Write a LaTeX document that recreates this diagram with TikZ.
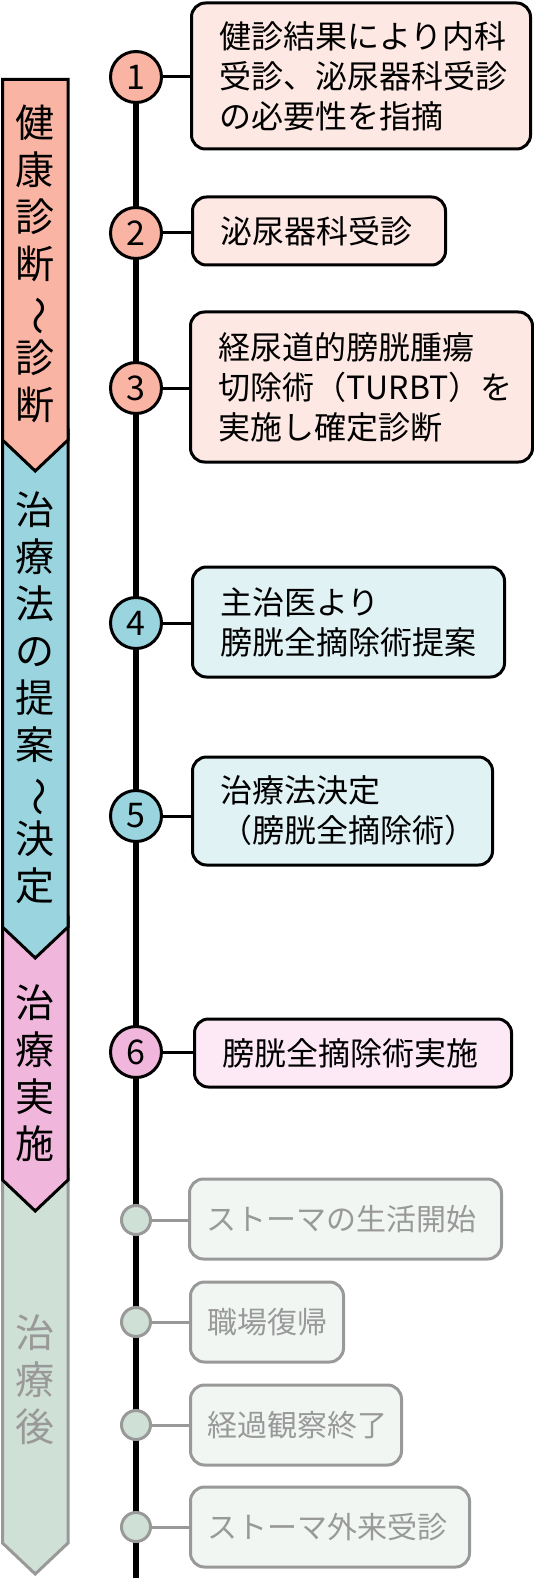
\documentclass[tikz,border=0pt]{standalone}
\usepackage{fontspec}
\setmainfont{Noto Sans CJK JP}
\usepackage{graphicx}

\definecolor{kenshin}{HTML}{F9B4A4}
\definecolor{kenshinlt}{HTML}{FDE8E3}
\definecolor{teian}{HTML}{9AD5DF}
\definecolor{teianlt}{HTML}{E1F2F5}
\definecolor{jisshi}{HTML}{F0B6DC}
\definecolor{jisshilt}{HTML}{FCE9F5}
\definecolor{chiryogo}{HTML}{CFE0D6}
\definecolor{chiryogolt}{HTML}{F1F6F3}
\definecolor{usui}{HTML}{999999}

\newcommand{\tatenami}{\smash{\rotatebox[origin=c]{-90}{～}}}

\begin{document}
\begin{tikzpicture}[x=1pt,y=-1pt,
    band/.style={line width=3pt,line join=miter},
    bandtext/.style={align=center,inner sep=0pt,font=\fontsize{39}{47}\selectfont},
    numc/.style={circle,draw,line width=3pt,minimum size=51pt,inner sep=0pt,font=\fontsize{34}{34}\selectfont},
    gdot/.style={circle,draw=usui,fill=chiryogo,line width=3pt,minimum size=29pt,inner sep=0pt},
    evbox/.style={draw,line width=3pt,rounded corners=14pt,anchor=west,align=left,inner xsep=28pt,inner ysep=0pt,font=\fontsize{32}{40}\selectfont},
    gbox/.style={evbox,draw=usui,fill=chiryogolt,text=usui,inner xsep=17pt,font=\fontsize{30}{40}\selectfont},
    link/.style={line width=3pt}]
    \useasboundingbox (0,0) rectangle (533,1578);

    % left band, drawn bottom to top
    \draw [band,draw=usui,fill=chiryogo] (2.5,1170) -- (68,1170) -- (68,1543) -- (35.25,1574) -- (2.5,1543) -- cycle;
    \draw [band,fill=jisshi] (2.5,917) -- (68,917) -- (68,1180) -- (35.25,1211) -- (2.5,1180) -- cycle;
    \draw [band,fill=teian] (2.5,430) -- (68,430) -- (68,927) -- (35.25,958) -- (2.5,927) -- cycle;
    \draw [band,fill=kenshin] (2.5,79.5) -- (68,79.5) -- (68,440) -- (35.25,471) -- (2.5,440) -- cycle;
    \node [bandtext] (kenshinlabel) at (35,264) {健\\康\\診\\断\\\tatenami\\診\\断};
    \node [bandtext] (teianlabel) at (35,698) {治\\療\\法\\の\\提\\案\\\tatenami\\決\\定};
    \node [bandtext] (jisshilabel) at (35,1073) {治\\療\\実\\施};
    \node [bandtext,text=usui] (chiryogolabel) at (35,1380) {治\\療\\後};

    % time line
    \coordinate (linetop) at (136,77);
    \coordinate (linebottom) at (136,1578);
    \draw [line width=6.5pt] (linetop) -- (linebottom);

    % steps
    \node [evbox,fill=kenshinlt,text width=283pt,minimum height=146pt] (b1) at (190,76) {健診結果により内科\\受診、泌尿器科受診\\の必要性を指摘};
    \node [evbox,fill=kenshinlt,text width=197pt,minimum height=68pt] (b2) at (191,231) {泌尿器科受診};
    \node [evbox,fill=kenshinlt,text width=286pt,minimum height=150pt] (b3) at (189,387) {経尿道的膀胱腫瘍\\切除術（TURBT）を\\実施し確定診断};
    \node [evbox,fill=teianlt,text width=256pt,minimum height=110pt] (b4) at (191,622) {主治医より\\膀胱全摘除術提案};
    \node [evbox,fill=teianlt,text width=244pt,minimum height=108pt] (b5) at (191,811) {治療法決定\\（膀胱全摘除術）};
    \node [evbox,fill=jisshilt,text width=261pt,minimum height=68pt] (b6) at (193,1053) {膀胱全摘除術実施};
    \node [gbox,text width=278pt,minimum height=80pt] (g1) at (188,1219) {ストーマの生活開始};
    \node [gbox,text width=119pt,minimum height=80pt] (g2) at (189,1322) {職場復帰};
    \node [gbox,text width=177pt,minimum height=80pt] (g3) at (189,1425) {経過観察終了};
    \node [gbox,text width=245pt,minimum height=80pt] (g4) at (189,1527) {ストーマ外来受診};

    \node [numc,fill=kenshin] (n1) at (136,77) {1};
    \node [numc,fill=kenshin] (n2) at (136,233) {2};
    \node [numc,fill=kenshin] (n3) at (136,388) {3};
    \node [numc,fill=teian] (n4) at (136,623) {4};
    \node [numc,fill=teian] (n5) at (136,816) {5};
    \node [numc,fill=jisshi] (n6) at (136,1052) {6};
    \node [gdot] (d1) at (136,1220) {};
    \node [gdot] (d2) at (136,1322) {};
    \node [gdot] (d3) at (136,1425) {};
    \node [gdot] (d4) at (136,1527) {};

    \draw [link] (n1.east) -- (n1.east -| b1.west);
    \draw [link] (n2.east) -- (n2.east -| b2.west);
    \draw [link] (n3.east) -- (n3.east -| b3.west);
    \draw [link] (n4.east) -- (n4.east -| b4.west);
    \draw [link] (n5.east) -- (n5.east -| b5.west);
    \draw [link] (n6.east) -- (n6.east -| b6.west);
    \draw [link,usui] (d1.east) -- (d1.east -| g1.west);
    \draw [link,usui] (d2.east) -- (d2.east -| g2.west);
    \draw [link,usui] (d3.east) -- (d3.east -| g3.west);
    \draw [link,usui] (d4.east) -- (d4.east -| g4.west);
\end{tikzpicture}
\end{document}
